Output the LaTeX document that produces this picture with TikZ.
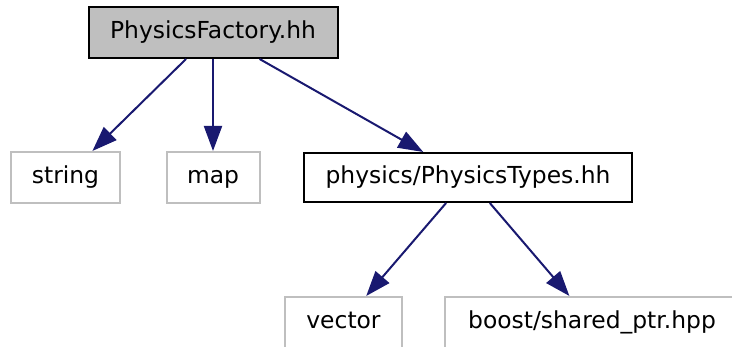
\documentclass[tikz,border=0pt]{standalone}
\usepackage{fontspec}
\setmainfont{DejaVu Sans}
\usetikzlibrary{arrows.meta}
\definecolor{navy}{RGB}{25,25,112}
\definecolor{silver}{RGB}{191,191,191}
\tikzset{
  >={Triangle[length=25pt,width=18pt]},
  file/.style={draw=#1,line width=2pt,inner sep=0pt,minimum height=51pt,
    text height=17.5pt,text depth=4.5pt,font=\fontsize{23.4}{27}\selectfont},
  file/.default=silver,
  dep/.style={->,line width=2pt,draw=navy},
}
\begin{document}
\begin{tikzpicture}[x=1pt,y=-1pt]
  \useasboundingbox (0,0) rectangle (732,347);
  \clip (0,0) rectangle (732,347);
  % header and its includes
  \node[file=black,fill=silver,minimum width=249pt] (factory) at (213,32.5) {PhysicsFactory.hh};
  \node[file,minimum width=109pt] (string) at (65.5,177.5) {string};
  \node[file,minimum width=93pt] (map) at (213,177.5) {map};
  \node[file=black,minimum width=328pt,minimum height=49pt] (types) at (468,177.5) {physics/PhysicsTypes.hh};
  \node[file,minimum width=117pt] (vector) at (343.5,322.5) {vector};
  \node[file,minimum width=294pt] (sharedptr) at (592,322.5) {boost/shared\_ptr.hpp};
  \draw[dep] (factory) -- (string);
  \draw[dep] (factory) -- (map);
  \draw[dep] (factory) -- (types);
  \draw[dep] (types) -- (vector);
  \draw[dep] (types) -- (sharedptr);
\end{tikzpicture}
\end{document}
